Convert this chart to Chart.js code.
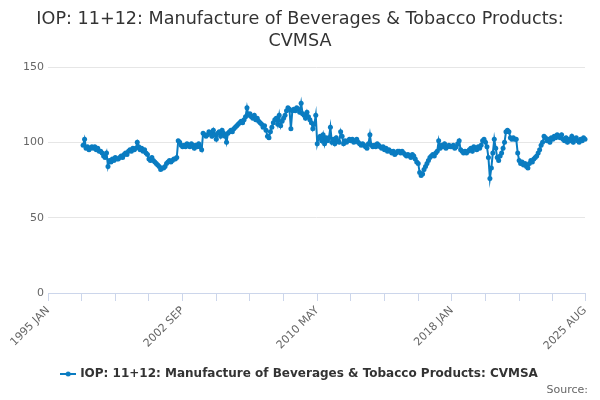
<!DOCTYPE html>
<html>
<head>
<meta charset="utf-8">
<script src="https://cdn.jsdelivr.net/npm/chart.js@4.4.0/dist/chart.umd.min.js"></script>
<style>
  html, body { margin: 0; padding: 0; background: #fff; }
</style>
</head>
<body>
<canvas id="myChart" width="600" height="400"></canvas>
<script>
var titleLines = ["IOP: 11+12: Manufacture of Beverages & Tobacco Products:", "CVMSA"];
var seriesName = "IOP: 11+12: Manufacture of Beverages & Tobacco Products: CVMSA";
var sourceText = "Source:";

var monthNames = ["JAN", "FEB", "MAR", "APR", "MAY", "JUN", "JUL", "AUG", "SEP", "OCT", "NOV", "DEC"];
var firstLabel = "1995 JAN";
var lastLabel = "2025 AUG";
var firstValueLabel = "1997 JAN";
var tickLabels = ["1995 JAN", "2002 SEP", "2010 MAY", "2018 JAN", "2025 AUG"];
var yTicks = [0, 50, 100, 150];

// monthly values, one row per year, from 1997 JAN
var values = [
  98, 102, 96, 97, 95, 96, 97, 96, 97, 95, 96, 94,        // 1997
  94, 93, 91, 90, 93, 84, 88, 87, 89, 88, 90, 89,         // 1998
  89, 90, 91, 90, 92, 93, 92, 94, 95, 94, 96, 95,         // 1999
  96, 100, 97, 95, 96, 94, 95, 93, 92, 89, 88, 90,        // 2000
  88, 87, 86, 85, 84, 82, 83, 83, 84, 86, 87, 88,         // 2001
  87, 88, 89, 89, 90, 101, 100, 98, 97, 98, 97, 99,       // 2002
  98, 97, 99, 98, 96, 98, 97, 99, 97, 95, 106, 105,       // 2003
  104, 105, 107, 106, 104, 108, 105, 102, 106, 107, 104, 108, // 2004
  106, 104, 100, 106, 107, 108, 107, 109, 110, 111, 112, 113, // 2005
  114, 113, 115, 117, 123, 118, 119, 117, 116, 118, 115, 116, // 2006
  114, 113, 112, 110, 111, 108, 104, 103, 107, 110, 113, 115, // 2007
  116, 112, 118, 111, 114, 116, 118, 121, 123, 122, 109, 121, // 2008
  122, 121, 123, 122, 120, 126, 119, 118, 116, 120, 117, 115, // 2009
  113, 109, 112, 118, 99, 103, 104, 101, 105, 99, 103, 101,   // 2010
  103, 110, 100, 102, 99, 103, 101, 100, 107, 104, 99, 101,   // 2011
  100, 101, 102, 101, 102, 100, 101, 102, 100, 99, 98, 99,    // 2012
  98, 97, 96, 99, 105, 98, 97, 98, 97, 99, 98, 97,            // 2013
  96, 97, 95, 96, 94, 95, 94, 93, 94, 92, 93, 94,             // 2014
  94, 93, 94, 93, 92, 91, 92, 91, 90, 92, 91, 89,             // 2015
  87, 86, 80, 78, 79, 82, 84, 86, 88, 90, 91, 92,             // 2016
  91, 93, 94, 101, 96, 98, 97, 99, 96, 97, 98, 97,            // 2017
  97, 98, 96, 97, 99, 101, 95, 94, 93, 94, 93, 94,            // 2018
  95, 96, 94, 97, 96, 95, 97, 96, 98, 101, 102, 100,          // 2019
  97, 90, 76, 83, 93, 102, 96, 90, 88, 91, 93, 96,            // 2020
  100, 107, 108, 107, 103, 102, 103, 102, 102, 93, 88, 86,    // 2021
  87, 85, 86, 84, 83, 86, 88, 87, 89, 90, 91, 93,             // 2022
  95, 98, 100, 104, 103, 101, 102, 100, 103, 102, 104, 103,   // 2023
  105, 104, 103, 105, 102, 101, 103, 100, 102, 101, 104, 100, // 2024
  102, 103, 101, 100, 102, 101, 103, 102                      // 2025
];

var lineColor = "#0a7cc1";

// month labels 1995 JAN .. 2025 AUG
var labels = [];
var y = parseInt(firstLabel), m = 0;
while (true) {
  var lab = y + " " + monthNames[m];
  labels.push(lab);
  if (lab === lastLabel) break;
  m++;
  if (m === 12) { m = 0; y++; }
}
var offset = labels.indexOf(firstValueLabel);
var seriesData = labels.map(function (l, i) {
  var v = values[i - offset];
  return v === undefined ? null : v;
});
var lastIndex = labels.length - 1;

// legend symbol: short line with a dot
var sym = document.createElement("canvas");
sym.width = 16; sym.height = 8;
var sc = sym.getContext("2d");
sc.strokeStyle = lineColor; sc.lineWidth = 2;
sc.beginPath(); sc.moveTo(0, 4); sc.lineTo(16, 4); sc.stroke();
sc.fillStyle = lineColor;
sc.beginPath(); sc.arc(8, 4, 2.5, 0, Math.PI * 2); sc.fill();

var sourcePlugin = {
  id: "sourceText",
  afterDraw: function (chart) {
    var c = chart.ctx;
    c.save();
    c.font = "11px 'DejaVu Sans'";
    c.fillStyle = "#666666";
    c.textAlign = "right";
    c.textBaseline = "middle";
    c.fillText(sourceText, 588, 390);
    c.restore();
  }
};

Chart.defaults.font.family = "'DejaVu Sans', sans-serif";

const config = {
  type: "line",
  data: {
    labels: labels,
    datasets: [{
      label: seriesName,
      data: seriesData,
      borderColor: lineColor,
      backgroundColor: lineColor,
      borderWidth: 2,
      pointRadius: 2.5,
      pointHoverRadius: 3,
      pointBorderWidth: 0,
      tension: 0,
      spanGaps: false
    }]
  },
  options: {
    responsive: false,
    animation: false,
    layout: { padding: { left: 0, right: 0, top: 0, bottom: 10 } },
    plugins: {
      title: {
        display: true,
        text: titleLines,
        color: "#333333",
        font: { size: 17.6, weight: "normal", lineHeight: 1.25 },
        padding: { top: 8, bottom: 15 }
      },
      legend: {
        position: "bottom",
        labels: {
          usePointStyle: true,
          pointStyle: sym,
          color: "#333333",
          font: { size: 12, weight: "bold" },
          padding: 10
        }
      },
      tooltip: { enabled: false }
    },
    scales: {
      x: {
        type: "category",
        offset: false,
        grid: {
          drawOnChartArea: false,
          drawTicks: true,
          tickLength: 8,
          color: function (ctx) {
            return (ctx.index % 23 === 0 || ctx.index === lastIndex) ? "#ccd6eb" : "rgba(0,0,0,0)";
          }
        },
        border: { display: true, color: "#ccd6eb", width: 1 },
        ticks: {
          autoSkip: false,
          minRotation: 45,
          maxRotation: 45,
          padding: 3,
          color: "#666666",
          font: { size: 11 },
          callback: function (v, i) {
            var l = labels[i];
            return tickLabels.indexOf(l) >= 0 ? l : "";
          }
        },
        afterFit: function (scale) {
          scale.height = 65;
          scale.paddingLeft = 0;
          scale.paddingRight = 15;
        }
      },
      y: {
        min: 0,
        max: 150,
        afterBuildTicks: function (scale) {
          scale.ticks = yTicks.map(function (v) { return { value: v }; });
        },
        grid: { color: "#e6e6e6", drawTicks: false },
        border: { display: false },
        ticks: { padding: 4, color: "#666666", font: { size: 11 } },
        afterFit: function (scale) { scale.width = 48; }
      }
    }
  },
  plugins: [sourcePlugin]
};

const myChart = new Chart(document.getElementById("myChart"), config);
</script>
</body>
</html>
